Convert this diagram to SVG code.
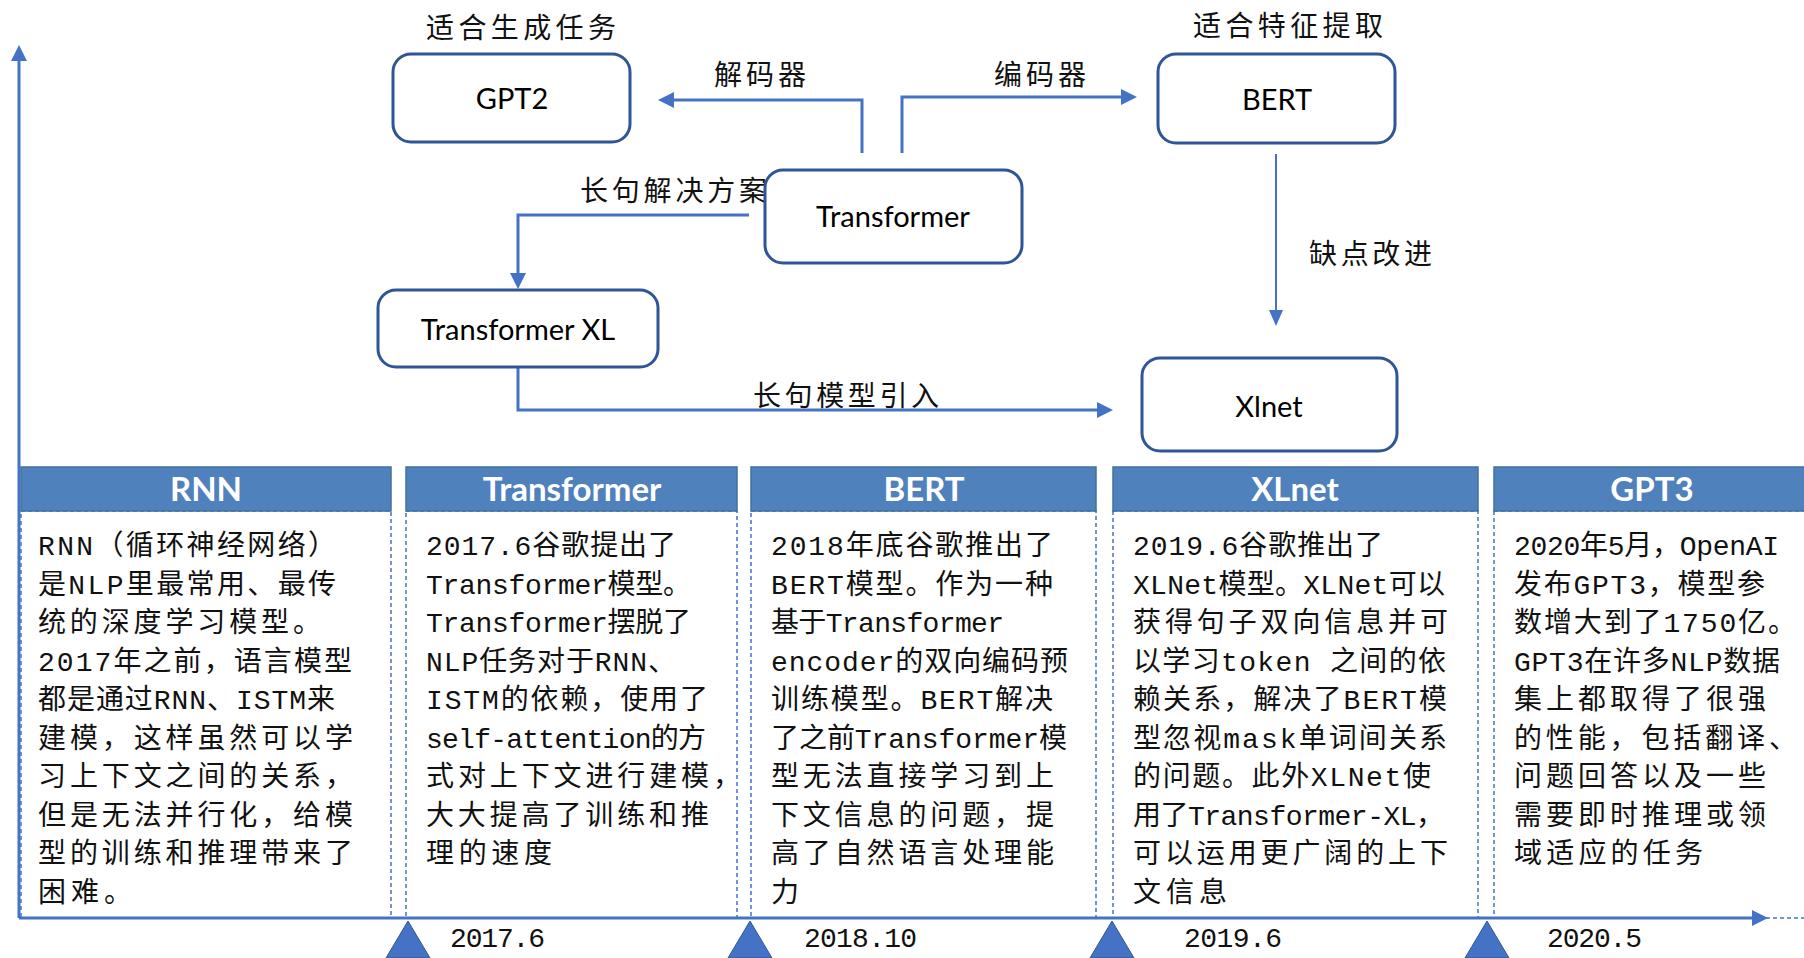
<svg xmlns="http://www.w3.org/2000/svg" width="1804" height="958" viewBox="0 0 1804 958">
<style>
.node{fill:#fff;stroke:#2F5597;stroke-width:3}
.nt{font-family:Lato,"Liberation Sans",sans-serif;font-size:29px;fill:#000;text-anchor:middle}
.lbl{font-family:"Noto Sans CJK SC",sans-serif;font-size:28px;fill:#111}
.con{fill:none;stroke:#4472C4;stroke-width:3}
.ah{fill:#4472C4}
.hd{fill:#4F81BD;stroke:#41719C;stroke-width:1.5}
.ht{font-family:Lato,"Liberation Sans",sans-serif;font-weight:bold;font-size:33px;fill:#fff;text-anchor:middle}
.bd{fill:#fff;stroke:#4472C4;stroke-width:1.5;stroke-dasharray:4 3}
.b{font-family:"Liberation Mono","Noto Sans CJK SC",monospace;font-size:28px;fill:#111}
.tri{fill:#4472C4;stroke:#2F5597;stroke-width:1}
</style>

<g id="columns">
  <g id="col-rnn">
    <rect class="bd" x="21" y="511" width="370" height="407"/>
    <rect class="hd" x="21" y="467" width="370" height="44"/>
    <text class="ht" x="206" y="501">RNN</text>
    <text class="b" x="38" y="555" textLength="298" lengthAdjust="spacing">RNN（循环神经网络）</text>
    <text class="b" x="38" y="593.5" textLength="298" lengthAdjust="spacing">是NLP里最常用、最传</text>
    <text class="b" x="38" y="632" textLength="283" lengthAdjust="spacing">统的深度学习模型。</text>
    <text class="b" x="38" y="670.5" textLength="314" lengthAdjust="spacing">2017年之前，语言模型</text>
    <text class="b" x="38" y="709" textLength="297" lengthAdjust="spacing">都是通过RNN、ISTM来</text>
    <text class="b" x="38" y="747.5" textLength="315" lengthAdjust="spacing">建模，这样虽然可以学</text>
    <text class="b" x="38" y="786" textLength="315" lengthAdjust="spacing">习上下文之间的关系，</text>
    <text class="b" x="38" y="824.5" textLength="315" lengthAdjust="spacing">但是无法并行化，给模</text>
    <text class="b" x="38" y="863" textLength="315" lengthAdjust="spacing">型的训练和推理带来了</text>
    <text class="b" x="38" y="901.5" textLength="94" lengthAdjust="spacing">困难。</text>
  </g>
  <g id="col-transformer">
    <rect class="bd" x="406" y="511" width="331" height="407"/>
    <rect class="hd" x="406" y="467" width="331" height="44"/>
    <text class="ht" x="572" y="501">Transformer</text>
    <text class="b" x="426" y="555" textLength="250" lengthAdjust="spacing">2017.6谷歌提出了</text>
    <text class="b" x="426" y="593.5" textLength="265" lengthAdjust="spacing">Transformer模型。</text>
    <text class="b" x="426" y="632" textLength="265" lengthAdjust="spacing">Transformer摆脱了</text>
    <text class="b" x="426" y="670.5" textLength="250" lengthAdjust="spacing">NLP任务对于RNN、</text>
    <text class="b" x="426" y="709" textLength="282" lengthAdjust="spacing">ISTM的依赖，使用了</text>
    <text class="b" x="426" y="747.5" textLength="280" lengthAdjust="spacing">self-attention的方</text>
    <text class="b" x="426" y="786" textLength="315" lengthAdjust="spacing">式对上下文进行建模，</text>
    <text class="b" x="426" y="824.5" textLength="283" lengthAdjust="spacing">大大提高了训练和推</text>
    <text class="b" x="426" y="863" textLength="126" lengthAdjust="spacing">理的速度</text>
  </g>
  <g id="col-bert">
    <rect class="bd" x="751" y="511" width="345" height="407"/>
    <rect class="hd" x="751" y="467" width="345" height="44"/>
    <text class="ht" x="924" y="501">BERT</text>
    <text class="b" x="771" y="555" textLength="282" lengthAdjust="spacing">2018年底谷歌推出了</text>
    <text class="b" x="771" y="593.5" textLength="282" lengthAdjust="spacing">BERT模型。作为一种</text>
    <text class="b" x="771" y="632" textLength="233" lengthAdjust="spacing">基于Transformer</text>
    <text class="b" x="771" y="670.5" textLength="297" lengthAdjust="spacing">encoder的双向编码预</text>
    <text class="b" x="771" y="709" textLength="282" lengthAdjust="spacing">训练模型。BERT解决</text>
    <text class="b" x="771" y="747.5" textLength="296" lengthAdjust="spacing">了之前Transformer模</text>
    <text class="b" x="771" y="786" textLength="283" lengthAdjust="spacing">型无法直接学习到上</text>
    <text class="b" x="771" y="824.5" textLength="283" lengthAdjust="spacing">下文信息的问题，提</text>
    <text class="b" x="771" y="863" textLength="283" lengthAdjust="spacing">高了自然语言处理能</text>
    <text class="b" x="771" y="901.5">力</text>
  </g>
  <g id="col-xlnet">
    <rect class="bd" x="1113" y="511" width="365" height="407"/>
    <rect class="hd" x="1113" y="467" width="365" height="44"/>
    <text class="ht" x="1295" y="501">XLnet</text>
    <text class="b" x="1133" y="555" textLength="250" lengthAdjust="spacing">2019.6谷歌推出了</text>
    <text class="b" x="1133" y="593.5" textLength="312" lengthAdjust="spacing">XLNet模型。XLNet可以</text>
    <text class="b" x="1133" y="632" textLength="315" lengthAdjust="spacing">获得句子双向信息并可</text>
    <text class="b" x="1133" y="670.5" textLength="313" lengthAdjust="spacing">以学习token 之间的依</text>
    <text class="b" x="1133" y="709" textLength="314" lengthAdjust="spacing">赖关系，解决了BERT模</text>
    <text class="b" x="1133" y="747.5" textLength="314" lengthAdjust="spacing">型忽视mask单词间关系</text>
    <text class="b" x="1133" y="786" textLength="298" lengthAdjust="spacing">的问题。此外XLNet使</text>
    <text class="b" x="1133" y="824.5" textLength="311" lengthAdjust="spacing">用了Transformer-XL，</text>
    <text class="b" x="1133" y="863" textLength="315" lengthAdjust="spacing">可以运用更广阔的上下</text>
    <text class="b" x="1133" y="901.5" textLength="94" lengthAdjust="spacing">文信息</text>
  </g>
  <g id="col-gpt3">
    <rect class="bd" x="1494" y="511" width="330" height="407"/>
    <rect class="hd" x="1494" y="467" width="330" height="44"/>
    <text class="ht" x="1652" y="501">GPT3</text>
    <text class="b" x="1514" y="555" textLength="265" lengthAdjust="spacing">2020年5月，OpenAI</text>
    <text class="b" x="1514" y="593.5" textLength="251" lengthAdjust="spacing">发布GPT3，模型参</text>
    <text class="b" x="1514" y="632" textLength="282" lengthAdjust="spacing">数增大到了1750亿。</text>
    <text class="b" x="1514" y="670.5" textLength="266" lengthAdjust="spacing">GPT3在许多NLP数据</text>
    <text class="b" x="1514" y="709" textLength="252" lengthAdjust="spacing">集上都取得了很强</text>
    <text class="b" x="1514" y="747.5" textLength="283" lengthAdjust="spacing">的性能，包括翻译、</text>
    <text class="b" x="1514" y="786" textLength="252" lengthAdjust="spacing">问题回答以及一些</text>
    <text class="b" x="1514" y="824.5" textLength="252" lengthAdjust="spacing">需要即时推理或领</text>
    <text class="b" x="1514" y="863" textLength="189" lengthAdjust="spacing">域适应的任务</text>
  </g>
</g>

<g id="timeline">
  <line class="con" x1="19" y1="918" x2="19" y2="60"/>
  <polygon class="ah" points="19,45 11,61 27,61"/>
  <line class="con" x1="19" y1="918" x2="1753" y2="918"/>
  <polygon class="ah" points="1768,918 1752,910 1752,926"/>
  <polygon class="tri" points="408,921 386,958 430,958"/>
  <polygon class="tri" points="750,921 728,958 772,958"/>
  <polygon class="tri" points="1112,921 1090,958 1134,958"/>
  <polygon class="tri" points="1487,921 1465,958 1509,958"/>
  <text class="b" x="450" y="947" textLength="95" lengthAdjust="spacing">2017.6</text>
  <text class="b" x="804" y="947" textLength="113" lengthAdjust="spacing">2018.10</text>
  <text class="b" x="1184" y="947" textLength="98" lengthAdjust="spacing">2019.6</text>
  <text class="b" x="1547" y="947" textLength="95" lengthAdjust="spacing">2020.5</text>
</g>

<g id="connectors">
  <polyline class="con" points="862,153 862,100 673,100"/>
  <polygon class="ah" points="658,100 674,92 674,108"/>
  <polyline class="con" points="902,153 902,97 1122,97"/>
  <polygon class="ah" points="1137,97 1121,89 1121,105"/>
  <polyline class="con" points="749,215 518,215 518,274"/>
  <polygon class="ah" points="518,289 510,273 526,273"/>
  <polyline class="con" points="518,368 518,410 1098,410"/>
  <polygon class="ah" points="1113,410 1097,402 1097,418"/>
  <line class="con" style="stroke-width:2" x1="1276" y1="154" x2="1276" y2="312"/>
  <polygon class="ah" points="1276,326 1269,310 1283,310"/>
</g>

<g id="labels">
  <text class="lbl" x="426" y="38" textLength="190" lengthAdjust="spacing">适合生成任务</text>
  <text class="lbl" x="1193" y="36" textLength="190" lengthAdjust="spacing">适合特征提取</text>
  <text class="lbl" x="714" y="85" textLength="92" lengthAdjust="spacing">解码器</text>
  <text class="lbl" x="994" y="85" textLength="92" lengthAdjust="spacing">编码器</text>
  <text class="lbl" x="580" y="201" textLength="187" lengthAdjust="spacing">长句解决方案</text>
  <text class="lbl" x="1309" y="264" textLength="123" lengthAdjust="spacing">缺点改进</text>
  <text class="lbl" x="753" y="406" textLength="186" lengthAdjust="spacing">长句模型引入</text>
</g>

<g id="node-gpt2">
  <rect class="node" x="393" y="54" width="237" height="88" rx="18"/>
  <text class="nt" x="512" y="109">GPT2</text>
</g>
<g id="node-bert">
  <rect class="node" x="1158" y="54" width="237" height="89" rx="18"/>
  <text class="nt" x="1277" y="110">BERT</text>
</g>
<g id="node-transformer">
  <rect class="node" x="765" y="170" width="257" height="93" rx="18"/>
  <text class="nt" x="893" y="227">Transformer</text>
</g>
<g id="node-transformer-xl">
  <rect class="node" x="378" y="290" width="280" height="77" rx="18"/>
  <text class="nt" x="518" y="340">Transformer XL</text>
</g>
<g id="node-xlnet">
  <rect class="node" x="1142" y="358" width="255" height="93" rx="18"/>
  <text class="nt" x="1269" y="417">Xlnet</text>
</g>
</svg>
